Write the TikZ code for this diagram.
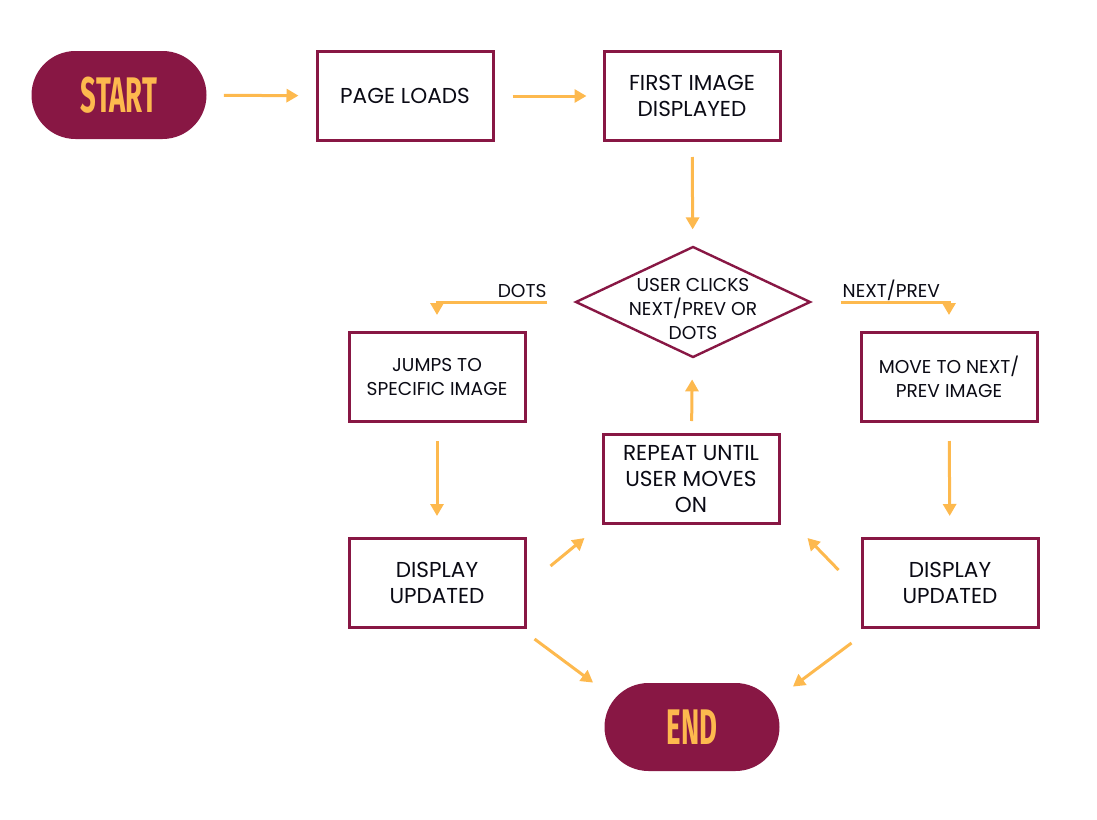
\documentclass[tikz,border=0pt]{standalone}
\usepackage{fontspec}
\setmainfont{Poppins}
\newfontfamily\headfont{Fira Sans}[FakeStretch=0.55]
\usetikzlibrary{arrows.meta, positioning, shapes.geometric}
\definecolor{FlowMaroon}{RGB}{136, 23, 68}
\definecolor{FlowGold}{RGB}{253, 185, 78}
\definecolor{FlowText}{RGB}{10, 10, 20}

\begin{document}
\begin{tikzpicture}[
    x=0.5pt, y=-0.5pt,
    stepBox/.style={draw=FlowMaroon, line width=1.5pt, minimum width=88pt,
      minimum height=44.5pt, align=center, text=FlowText,
      font=\fontsize{10.8}{12.8}\selectfont},
    smallBox/.style={stepBox, font=\fontsize{9.3}{12}\selectfont},
    termPill/.style={fill=FlowMaroon, rounded corners=22pt, minimum width=87.5pt,
      minimum height=44pt, text=FlowGold, font=\headfont\bfseries\fontsize{25}{25}\selectfont},
    decision/.style={diamond, draw=FlowMaroon, line width=1.2pt, aspect=2.12,
      minimum width=117.5pt, minimum height=55.5pt, inner sep=0pt},
    smallText/.style={text=FlowText, align=center, font=\fontsize{9.3}{11.8}\selectfont},
    branchLabel/.style={smallText, above=-4.5pt, text depth=2.5pt},
    flowArrow/.style={draw=FlowGold, line width=1.5pt,
      -{Triangle[length=6pt, width=6.5pt]}}
  ]
  \useasboundingbox (0,0) rectangle (1097,819);

  % nodes
  \node[termPill] (start) at (119,95) {START};
  \node[stepBox] (page) at (405,96) {PAGE LOADS};
  \node[stepBox] (first) at (692,96) {FIRST IMAGE\\DISPLAYED};
  \node[decision] (dia) at (693,302) {};
  \node[smallText] (diaLabel) at ([yshift=-3.5pt]dia.center) {USER CLICKS\\NEXT/PREV OR\\DOTS};
  \node[smallBox] (jumps) at (437,377) {JUMPS TO\\SPECIFIC IMAGE};
  \node[smallBox] (move) at (949,377) {MOVE TO NEXT/\\PREV IMAGE};
  \node[stepBox] (repeat) at (691,479) {REPEAT UNTIL\\USER MOVES\\ON};
  \node[stepBox] (dispL) at (437,583) {DISPLAY\\UPDATED};
  \node[stepBox] (dispR) at (950,583) {DISPLAY\\UPDATED};
  \node[termPill] (end) at (692,727) {END};

  % connectors
  \draw[flowArrow, shorten <=8.5pt, shorten >=8.5pt] (start) -- (page);
  \draw[flowArrow, shorten <=9pt, shorten >=8pt] (page) -- (first);
  \draw[flowArrow, shorten <=7.5pt, shorten >=8pt] (first) -- (dia);
  \draw[flowArrow, shorten <=13.5pt, shorten >=8pt] (dia.west) -| (jumps.north)
    node[branchLabel, pos=0.19] (dotsLabel) {DOTS};
  \draw[flowArrow, shorten <=14.5pt, shorten >=8pt] (dia.east) -| (move.north)
    node[branchLabel, pos=0.29] (nextLabel) {NEXT/PREV};
  \draw[flowArrow, shorten <=9pt, shorten >=10.5pt] (jumps) -- (dispL);
  \draw[flowArrow, shorten <=9pt, shorten >=10.5pt] (move) -- (dispR);
  \draw[flowArrow, shorten <=6pt, shorten >=10.5pt] (repeat) -- (dia);
  \draw[flowArrow] ([shift={(24,-17)}]dispL.east) -- ([shift={(-17,13)}]repeat.south west);
  \draw[flowArrow] ([shift={(-22,-13)}]dispR.west) -- ([shift={(27,13)}]repeat.south east);
  \draw[flowArrow] ([shift={(8,10)}]dispL.south east) -- ([shift={(-11,0)}]end.north west);
  \draw[flowArrow] ([shift={(-9,14)}]dispR.south west) -- ([shift={(13,4)}]end.north east);
\end{tikzpicture}
\end{document}
